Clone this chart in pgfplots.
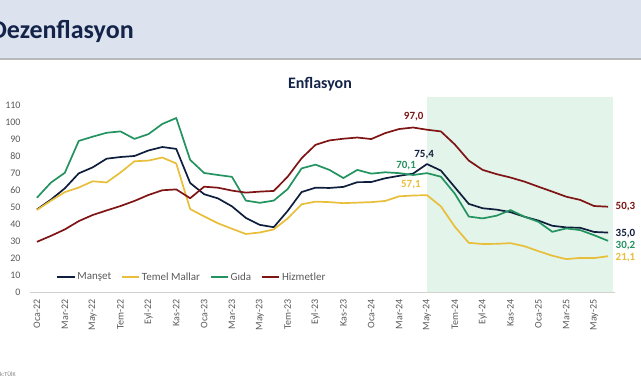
\documentclass[border=0pt]{standalone}
\usepackage{fontspec}
\setmainfont{Carlito}
\usepackage{pgfplots}
\pgfplotsset{compat=1.18}
\definecolor{manset}{HTML}{0F1E3D}
\definecolor{temel}{HTML}{E8BE3A}
\definecolor{gida}{HTML}{23935F}
\definecolor{hizmet}{HTML}{7F1414}
\definecolor{shade}{HTML}{E3F4EA}
\definecolor{banner}{HTML}{DCE3EE}
\definecolor{navy}{HTML}{13234A}
\definecolor{tickgray}{HTML}{595959}

\pgfplotstableread{
i manset temel gida hizmet
0 48.69 48.4 55.6 29.6
1 54.44 53.8 64.5 33.1
2 61.14 58.9 70.3 36.9
3 69.97 61.6 89.1 41.8
4 73.50 65.3 91.6 45.4
5 78.62 64.6 93.9 48.1
6 79.60 70.5 94.7 50.7
7 80.21 77.1 90.3 53.7
8 83.45 77.5 93.1 57.2
9 85.51 79.3 99.1 60.0
10 84.39 75.8 102.6 60.5
11 64.27 48.9 77.9 55.3
12 57.68 44.6 70.2 62.1
13 55.18 40.5 69.0 61.5
14 50.51 37.3 67.9 59.8
15 43.68 34.2 53.9 58.6
16 39.59 35.1 52.6 59.2
17 38.21 36.9 53.9 59.6
18 47.83 43.4 60.7 68.0
19 58.94 51.7 72.9 78.9
20 61.53 53.3 75.1 86.8
21 61.36 53.0 72.0 89.4
22 61.98 52.4 67.2 90.4
23 64.77 52.7 72.0 91.1
24 64.86 53.0 69.8 90.2
25 67.07 53.7 70.6 93.7
26 68.50 56.4 70.1 96.1
27 69.80 56.9 69.0 97.0
28 75.45 57.1 70.1 95.7
29 71.60 50.5 68.0 94.7
30 61.78 38.5 58.0 87.0
31 51.97 29.0 44.5 77.5
32 49.38 28.3 43.4 72.0
33 48.58 28.4 45.0 69.5
34 47.09 28.8 48.3 67.5
35 44.38 27.0 44.4 65.1
36 42.12 24.1 41.4 62.1
37 39.05 21.4 35.5 59.2
38 38.10 19.4 37.5 56.2
39 37.86 20.1 36.5 54.3
40 35.41 20.0 33.5 50.7
41 35.05 21.1 30.2 50.3
}\datatable

\begin{document}
\begin{tikzpicture}
\useasboundingbox (0pt,0pt) rectangle (641pt,380pt);
\fill[banner] (0pt,321pt) rectangle (641pt,380pt);
\draw[gray!55, line width=1.2pt] (0pt,321pt) -- (641pt,321pt);
\node[anchor=west, font=\bfseries\fontsize{26}{30}\selectfont, text=navy] at (-13pt,349pt) {Dezenflasyon};
\node[font=\bfseries\fontsize{16}{19}\selectfont, text=navy] at (320pt,296pt) {Enflasyon};
\node[anchor=west, font=\fontsize{6}{7}\selectfont, text=gray] at (-18pt,5pt) {Kaynak:TÜİK};
\begin{axis}[
  at={(30pt,88pt)}, anchor=south west,
  scale only axis, width=585pt, height=195pt,
  xmin=-0.5, xmax=41.5, ymin=0, ymax=115,
  clip=false,
  axis x line*=bottom, axis y line*=left,
  x axis line style={gray!35, line width=0.8pt, -},
  y axis line style={draw=none},
  major tick length=0pt,
  ytick={0,10,...,110},
  xtick={0,2,...,40},
  xticklabels={Oca-22,Mar-22,May-22,Tem-22,Eyl-22,Kas-22,Oca-23,Mar-23,May-23,Tem-23,Eyl-23,Kas-23,Oca-24,Mar-24,May-24,Tem-24,Eyl-24,Kas-24,Oca-25,Mar-25,May-25},
  x tick label style={rotate=90, anchor=east, font=\fontsize{10}{12}\selectfont, text=tickgray},
  y tick label style={font=\fontsize{10}{12}\selectfont, text=tickgray},
  xticklabel shift=4pt,
  yticklabel shift=6pt,
  /pgf/number format/assume math mode=true,
  legend style={at={(0.04,0.077)}, anchor=west, draw=none, fill=none,
    font=\fontsize{11}{13}\selectfont, text=tickgray,
    /tikz/every even column/.append style={column sep=8pt}},
  legend columns=4,
  legend cell align=left,
  every axis plot/.append style={line width=1.7pt, line join=round},
]
\addplot[fill=shade, draw=none, forget plot, line width=0pt] coordinates {(28,0) (28,115) (41.35,115) (41.35,0)} -- cycle;
\addplot[manset] table[x=i, y=manset] {\datatable};
\addlegendentry{Manşet}
\addplot[temel] table[x=i, y=temel] {\datatable};
\addlegendentry{Temel Mallar}
\addplot[gida] table[x=i, y=gida] {\datatable};
\addlegendentry{Gıda}
\addplot[hizmet] table[x=i, y=hizmet] {\datatable};
\addlegendentry{Hizmetler}
\node[font=\bfseries\fontsize{11}{13}\selectfont, text=hizmet] at (axis cs:27.05,103.5) {97,0};
\node[font=\bfseries\fontsize{11}{13}\selectfont, text=manset] at (axis cs:27.8,80.9) {75,4};
\node[font=\bfseries\fontsize{11}{13}\selectfont, text=gida] at (axis cs:26.5,74.4) {70,1};
\node[font=\bfseries\fontsize{11}{13}\selectfont, text=temel] at (axis cs:26.85,63.1) {57,1};
\node[anchor=west, font=\bfseries\fontsize{11}{13}\selectfont, text=hizmet] at (axis cs:41.3,50.1) {50,3};
\node[anchor=west, font=\bfseries\fontsize{11}{13}\selectfont, text=manset] at (axis cs:41.3,34.7) {35,0};
\node[anchor=west, font=\bfseries\fontsize{11}{13}\selectfont, text=gida] at (axis cs:41.3,27.6) {30,2};
\node[anchor=west, font=\bfseries\fontsize{11}{13}\selectfont, text=temel] at (axis cs:41.3,20.5) {21,1};
\end{axis}
\end{tikzpicture}
\end{document}
